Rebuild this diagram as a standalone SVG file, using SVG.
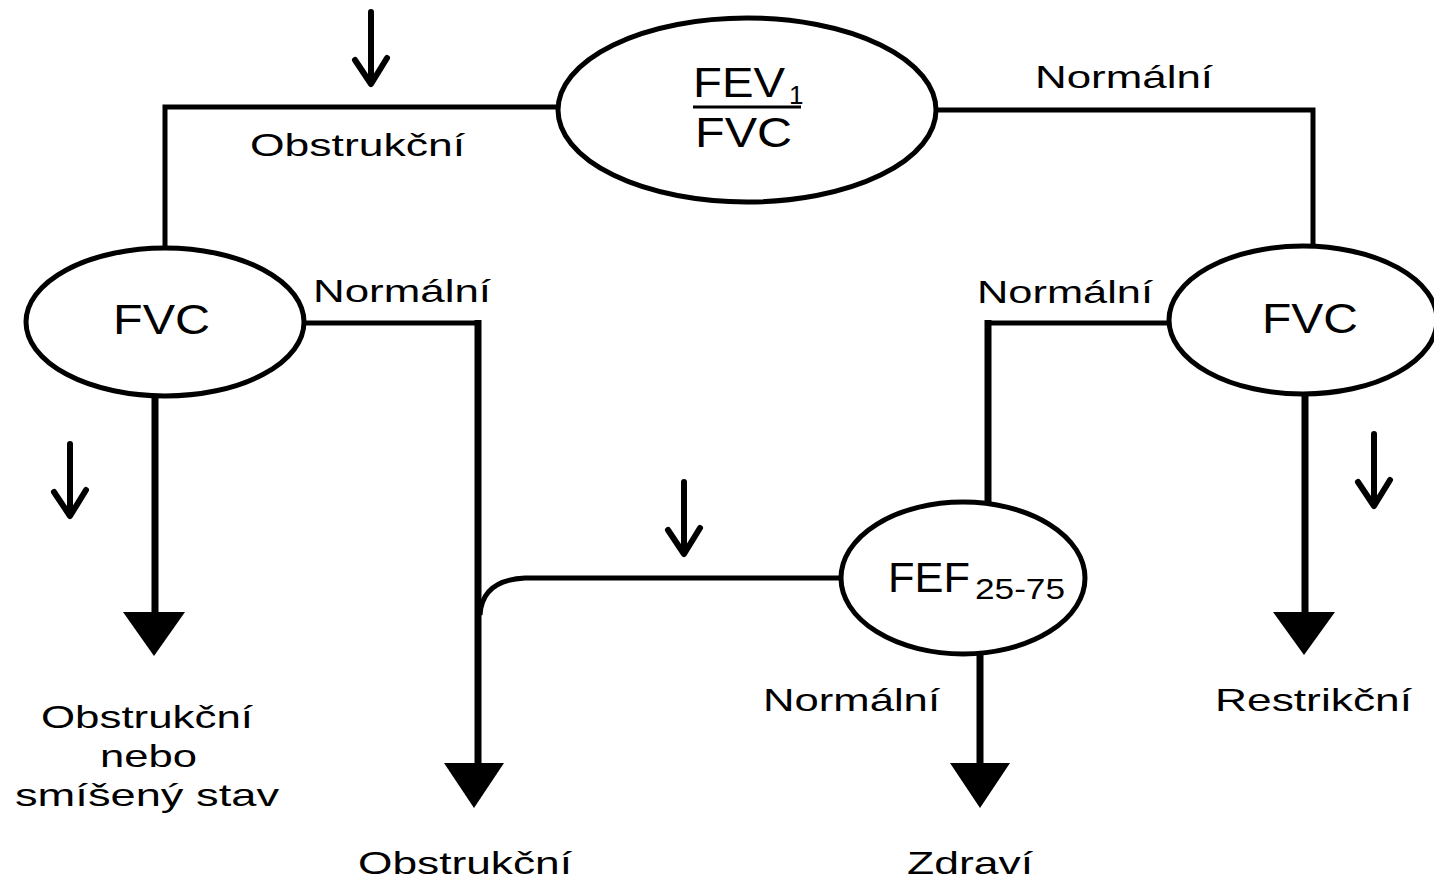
<svg xmlns="http://www.w3.org/2000/svg" xmlns:xlink="http://www.w3.org/1999/xlink" width="1434" height="885" viewBox="0 0 1434 885">
<style>
.node{fill:#fff;stroke:#000;stroke-width:5}
.conn{fill:none;stroke:#000;stroke-width:5;stroke-linejoin:miter}
.shaft{fill:none;stroke:#000;stroke-width:7}
.head{fill:#000;stroke:none}
.lbl{font-family:"Liberation Sans",Arial,sans-serif;font-size:32px;fill:#000}
.big{font-family:"Liberation Sans",Arial,sans-serif;font-size:42px;fill:#000}
.tiny{fill:none;stroke:#000;stroke-width:6;stroke-linecap:round;stroke-linejoin:round}
</style>
<defs>
<g id="smallArrow">
<path class="tiny" d="M0,0 L0,70"/>
<path class="tiny" d="M-16,48 L0,72 L16,46"/>
</g>
</defs>
<rect width="1434" height="885" fill="#fff"/>
<g id="connectors">
<path class="conn" d="M558,107 L165,107 L165,250"/>
<path class="conn" d="M936,110 L1313,110 L1313,248"/>
<path class="conn" d="M304,323 L481,323"/>
<path class="shaft" d="M478,320 L478,765"/>
<polygon class="head" points="444,763 504,763 474,808"/>
<path class="shaft" d="M155,396 L155,614"/>
<polygon class="head" points="123,612 185,612 154,656"/>
<path class="conn" d="M842,578 L525,578 Q482,580 480,615"/>
<path class="conn" d="M1170,323 L986,323"/>
<path class="shaft" d="M988,320 L988,503"/>
<path class="shaft" d="M980,652 L980,765"/>
<polygon class="head" points="950,763 1010,763 980,808"/>
<path class="shaft" d="M1305,394 L1305,614"/>
<polygon class="head" points="1273,612 1335,612 1304,655"/>
<use xlink:href="#smallArrow" x="371" y="12"/>
<use xlink:href="#smallArrow" x="70" y="444"/>
<use xlink:href="#smallArrow" x="684" y="482"/>
<use xlink:href="#smallArrow" x="1374" y="434"/>
</g>
<g id="n-ratio">
<ellipse class="node" cx="747" cy="110" rx="189" ry="92"/>
<text class="big" font-size="40"><tspan x="693" y="97" textLength="92" lengthAdjust="spacingAndGlyphs">FEV</tspan><tspan x="789" y="104" font-size="26">1</tspan></text>
<line x1="693" y1="107" x2="801" y2="107" stroke="#000" stroke-width="3"/>
<text class="big" x="695" y="147" textLength="97" lengthAdjust="spacingAndGlyphs">FVC</text>
</g>
<g id="n-fvc-left">
<ellipse class="node" cx="165" cy="322" rx="139" ry="74"/>
<text class="big" x="113" y="334" textLength="97" lengthAdjust="spacingAndGlyphs">FVC</text>
</g>
<g id="n-fvc-right">
<ellipse class="node" cx="1303" cy="320" rx="134" ry="74"/>
<text class="big" x="1262" y="333" textLength="96" lengthAdjust="spacingAndGlyphs">FVC</text>
</g>
<g id="n-fef">
<ellipse class="node" cx="963" cy="578" rx="122" ry="76"/>
<text class="big" font-size="41"><tspan x="888" y="592" textLength="82" lengthAdjust="spacingAndGlyphs">FEF</tspan><tspan x="975" y="599" font-size="29" textLength="90" lengthAdjust="spacingAndGlyphs">25-75</tspan></text>
</g>
<g id="labels">
<text class="lbl" x="1035" y="88" textLength="178" lengthAdjust="spacingAndGlyphs">Normální</text>
<text class="lbl" x="250" y="156" textLength="215" lengthAdjust="spacingAndGlyphs">Obstrukční</text>
<text class="lbl" x="313" y="302" textLength="178" lengthAdjust="spacingAndGlyphs">Normální</text>
<text class="lbl" x="977" y="303" textLength="176" lengthAdjust="spacingAndGlyphs">Normální</text>
<text class="lbl" x="763" y="711" textLength="177" lengthAdjust="spacingAndGlyphs">Normální</text>
<text class="lbl" x="1215" y="711" textLength="197" lengthAdjust="spacingAndGlyphs">Restrikční</text>
<text class="lbl" x="41" y="728" textLength="212" lengthAdjust="spacingAndGlyphs">Obstrukční</text>
<text class="lbl" x="100" y="767" textLength="97" lengthAdjust="spacingAndGlyphs">nebo</text>
<text class="lbl" x="15" y="806" textLength="264" lengthAdjust="spacingAndGlyphs">smíšený stav</text>
<text class="lbl" x="358" y="874" textLength="214" lengthAdjust="spacingAndGlyphs">Obstrukční</text>
<text class="lbl" x="907" y="874" textLength="126" lengthAdjust="spacingAndGlyphs">Zdraví</text>
</g>
</svg>
